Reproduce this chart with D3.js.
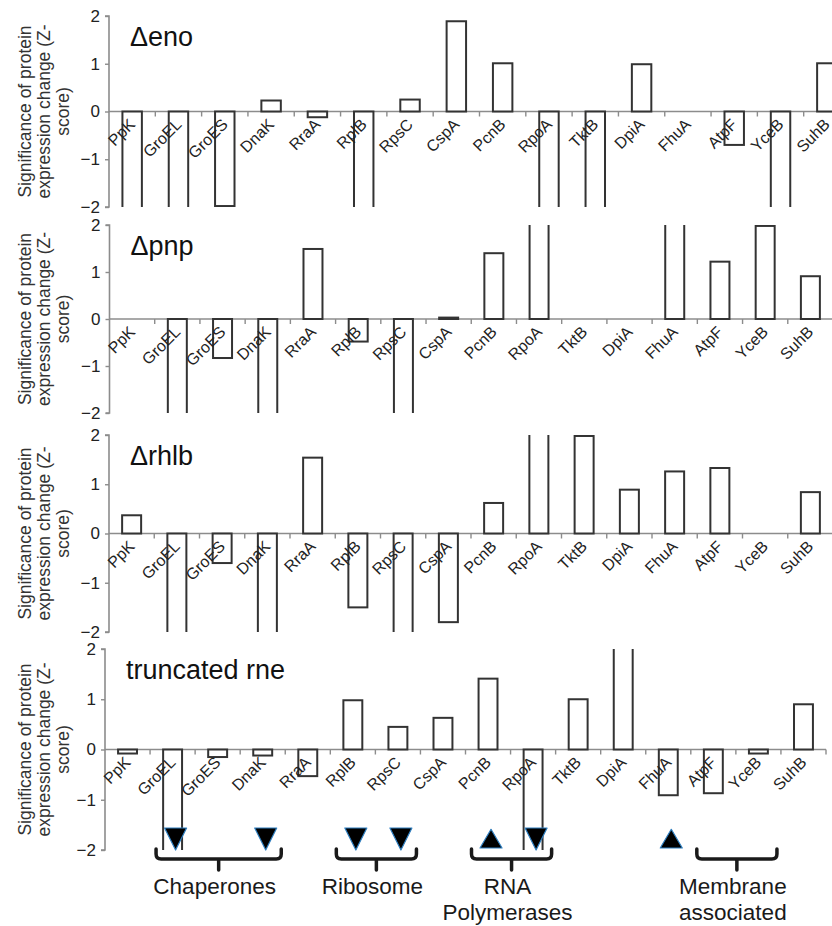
<!DOCTYPE html>
<html>
<head>
<meta charset="utf-8">
<script src="https://cdn.jsdelivr.net/npm/d3@7"></script>
<style>
  html, body { margin: 0; padding: 0; background: #fff; }
  svg { display: block; font-family: "Liberation Sans", Arial, Helvetica, sans-serif; }
</style>
</head>
<body>
<svg id="chart" width="832" height="926"></svg>
<script>
// ---------- DATA ----------
const categories = ["PpK","GroEL","GroES","DnaK","RraA","RplB","RpsC","CspA","PcnB","RpoA","TktB","DpiA","FhuA","AtpF","YceB","SuhB"];
const strainNames = ["\u0394eno","\u0394pnp","\u0394rhlb","truncated rne"];
// values beyond +/-2 are cut off by the axis range in the original
const enoValues  = [-2.5,-2.5,-1.98,0.23,-0.12,-2.5,0.25,1.89,1.01,-2.5,-2.5,0.99,0,-0.70,-2.5,1.01];
const pnpValues  = [0,-2.5,-0.83,-2.5,1.49,-0.48,-2.5,0.03,1.40,2.5,0,0,2.5,1.22,1.98,0.91];
const rhlbValues = [0.37,-2.5,-0.60,-2.5,1.54,-1.50,-2.5,-1.80,0.62,2.5,1.98,0.89,1.26,1.33,0,0.84];
const rneValues  = [-0.08,-2.5,-0.15,-0.12,-0.53,0.98,0.45,0.63,1.41,-2.5,1.00,2.5,-0.91,-0.87,-0.08,0.90];
const yTickValues = [-2,-1,0,1,2];
const yTitleLines = ["Significance of protein","expression change (Z-","score)"];
const markerCats = ["GroEL","DnaK","RplB","RpsC","PcnB","RpoA","FhuA"];
const markerDirs = ["down","down","down","down","up","down","up"];
const groupLabels = [["Chaperones"],["Ribosome"],["RNA","Polymerases"],["Membrane","associated"]];
const groupFrom = ["GroEL","RplB","PcnB","AtpF"];
const groupTo   = ["DnaK","RpsC","RpoA","YceB"];

const seriesList = [enoValues, pnpValues, rhlbValues, rneValues];

// ---------- LAYOUT ----------
const panels = [
  {x0:109, x1:850, yTop:16,  yBot:207},
  {x0:109.5, x1:833, yTop:225, yBot:413},
  {x0:109, x1:833, yTop:435, yBot:632},
  {x0:105, x1:826, yTop:649, yBot:850}
];

const svg = d3.select("#chart");
const axisColor = "#8c8c8c";
const barStroke = "#333";

panels.forEach((p, i) => {
  const vals = seriesList[i];
  const x = d3.scaleBand().domain(categories).range([p.x0, p.x1]).paddingInner(0.58).paddingOuter(0.29);
  const xb = d3.scaleBand().domain(categories).range([p.x0, p.x1]);
  const y = d3.scaleLinear().domain([-2, 2]).range([p.yBot, p.yTop]);

  const g = svg.append("g");
  const clipId = "clip" + i;
  svg.append("clipPath").attr("id", clipId)
    .append("rect").attr("x", p.x0).attr("y", y(2)).attr("width", p.x1 - p.x0 + 10).attr("height", y(-2) - y(2));

  // x axis line with ticks at band boundaries
  const xAxisG = g.append("g");
  xAxisG.append("line")
    .attr("x1", p.x0).attr("x2", p.x1).attr("y1", y(0)).attr("y2", y(0))
    .attr("stroke", axisColor).attr("stroke-width", 1.6);
  xAxisG.selectAll("line.tk").data(categories).enter().append("line")
    .attr("class", "tk")
    .attr("x1", d => xb(d) + xb.bandwidth()).attr("x2", d => xb(d) + xb.bandwidth())
    .attr("y1", y(0)).attr("y2", y(0) + 5)
    .attr("stroke", axisColor).attr("stroke-width", 1.4);

  // y axis
  const yAxis = d3.axisLeft(y).tickValues(yTickValues).tickSize(4).tickFormat(d3.format("d"));
  const ya = g.append("g").attr("transform", `translate(${p.x0},0)`).call(yAxis);
  ya.select(".domain").attr("stroke", axisColor).attr("stroke-width", 1.6).attr("d", `M-4,${y(2)}H0V${y(-2)}H-4`);
  ya.selectAll(".tick line").attr("stroke", axisColor).attr("stroke-width", 1.4);
  ya.selectAll(".tick text").attr("font-size", 17).attr("fill", "#222").attr("x", -9)
    .attr("font-family", "Liberation Sans, Arial, sans-serif");

  // bars
  g.append("g").attr("clip-path", `url(#${clipId})`)
    .selectAll("rect").data(categories.map((c, k) => ({c, v: vals[k]})).filter(d => d.v !== 0))
    .enter().append("rect")
    .attr("x", d => x(d.c))
    .attr("width", x.bandwidth())
    .attr("y", d => y(Math.max(0, d.v)))
    .attr("height", d => Math.abs(y(d.v) - y(0)))
    .attr("fill", "#fff")
    .attr("stroke", barStroke).attr("stroke-width", 2);

  // category labels
  g.append("g").selectAll("text").data(categories).enter().append("text")
    .attr("transform", d => `translate(${xb(d) + xb.bandwidth() / 2 + 4},${y(0) + 14}) rotate(-45)`)
    .attr("text-anchor", "end")
    .attr("font-size", 16)
    .attr("fill", "#222")
    .text(d => d);

  // panel title
  g.append("text")
    .attr("x", p.x0 + 21).attr("y", y(2) + 30)
    .attr("font-size", 27).attr("fill", "#111")
    .text(strainNames[i]);

  // y title
  const cy = (y(2) + y(-2)) / 2;
  const yt = g.append("text")
    .attr("transform", `translate(31,${cy}) rotate(-90)`)
    .attr("text-anchor", "middle")
    .attr("font-size", 17.5)
    .attr("fill", "#333");
  yTitleLines.forEach((t, k) => {
    yt.append("tspan").attr("x", 0).attr("y", k * 19).text(t);
  });

  // annotations on last panel
  if (i === 3) {
    const base = y(-2);
    const triW = 22, triH = 22;
    const ann = svg.append("g");
    markerCats.forEach((c, k) => {
      const cx = xb(c) + xb.bandwidth() / 2 + 3;
      const dir = markerDirs[k];
      let path;
      if (dir === "down") {
        path = `M${cx - triW/2},${base - triH} L${cx + triW/2},${base - triH} L${cx},${base} Z`;
      } else {
        path = `M${cx - triW/2},${base - 2} L${cx + triW/2},${base - 2} L${cx},${base - 2 - triH*0.85} Z`;
      }
      ann.append("path").attr("d", path)
        .attr("fill", "#000").attr("stroke", "#2f7fc0").attr("stroke-width", 1.2)
        .attr("stroke-linejoin", "round");
    });
    groupLabels.forEach((lab, k) => {
      const xl = xb(groupFrom[k]) + 6;
      const xr = xb(groupTo[k]) + xb.bandwidth() - 4;
      const cx = (xl + xr) / 2;
      const yTopB = base - 1, yLine = base + 9, yStub = base + 20;
      const r = 5;
      const d = `M${xl},${yTopB} L${xl},${yLine - r} Q${xl},${yLine} ${xl + r},${yLine} L${xr - r},${yLine} Q${xr},${yLine} ${xr},${yLine - r} L${xr},${yTopB}` +
                ` M${cx},${yLine} L${cx},${yStub}`;
      ann.append("path").attr("d", d).attr("fill", "none")
        .attr("stroke", "#1a1a1a").attr("stroke-width", 3.5).attr("stroke-linecap", "round").attr("stroke-linejoin", "round");
      const t = ann.append("text").attr("text-anchor", "middle").attr("font-size", 22.5).attr("fill", "#1a1a1a");
      lab.forEach((s, m) => {
        t.append("tspan").attr("x", cx - 4).attr("y", base + 44 + m * 26).text(s);
      });
    });
  }
});
</script>
</body>
</html>
